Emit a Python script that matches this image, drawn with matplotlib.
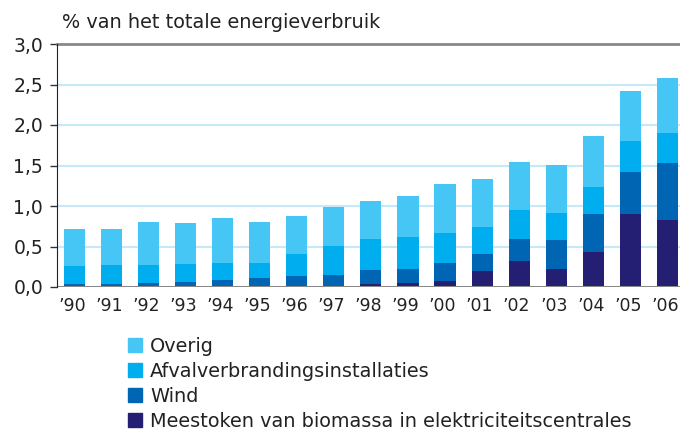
import numpy as np
import matplotlib
matplotlib.use("Agg")
import matplotlib.pyplot as plt
import matplotlib.transforms as mtransforms
from matplotlib.patches import Patch

years = ["\u201990", "\u201991", "\u201992", "\u201993", "\u201994", "\u201995", "\u201996", "\u201997",
         "\u201998", "\u201999", "\u201900", "\u201901", "\u201902", "\u201903", "\u201904", "\u201905", "\u201906"]

# layer values
biomassa = [0.0, 0.0, 0.0, 0.0, 0.0, 0.0, 0.0, 0.01, 0.04, 0.05, 0.08, 0.20, 0.32, 0.22, 0.43, 0.90, 0.83]
wind = [0.037, 0.037, 0.05, 0.06, 0.09, 0.11, 0.135, 0.14, 0.17, 0.17, 0.22, 0.21, 0.27, 0.36, 0.47, 0.52, 0.70]
afval = [0.223, 0.233, 0.22, 0.22, 0.21, 0.19, 0.275, 0.36, 0.38, 0.40, 0.37, 0.33, 0.36, 0.33, 0.33, 0.38, 0.37]
overig = [0.456, 0.446, 0.53, 0.51, 0.55, 0.50, 0.466, 0.48, 0.47, 0.50, 0.60, 0.59, 0.59, 0.60, 0.64, 0.62, 0.68]

labels = ["Meestoken van biomassa in elektriciteitscentrales", "Wind",
          "Afvalverbrandingsinstallaties", "Overig"]
colors = ["#241f73", "#0066b3", "#00aeef", "#45c6f5"]
yticks = [0.0, 0.5, 1.0, 1.5, 2.0, 2.5, 3.0]

plt.rcParams['font.family'] = ['DejaVu Sans']
fig = plt.figure(figsize=(6.8, 4.32), dpi=100)
ax = fig.add_axes([57 / 680, 1 - 287 / 432, 623 / 680, 243 / 432])

x = np.arange(len(years))
bottom = np.zeros(len(years))
for vals, lab, col in zip([biomassa, wind, afval, overig], labels, colors):
    ax.bar(x, vals, 0.57, bottom=bottom, color=col, label=lab, zorder=3)
    bottom += np.array(vals)

for t in yticks[1:-1]:
    ax.axhline(t, color="#c5e9f8", lw=1.5, zorder=1)
ax.axhline(0, color="#888888", lw=2.2, zorder=4)
ax.axhline(3.0, color="#888888", lw=2, zorder=4, clip_on=False)

ax.set_xlim(-0.47, 16.34)
ax.set_ylim(0, 3.0)
ax.set_xticks(x)
ax.set_xticklabels(years, fontsize=12.5, color="#222222")
ax.tick_params(axis="x", length=0, pad=7)
# labels sit a touch left of the bar centres
shift = mtransforms.ScaledTranslation(-2.5 / 100, 0, fig.dpi_scale_trans)
for lbl in ax.get_xticklabels():
    lbl.set_transform(lbl.get_transform() + shift)
ax.set_yticks(yticks)
ax.set_yticklabels([f"{t:.1f}".replace(".", ",") for t in yticks], fontsize=13.5, color="#222222")
ax.tick_params(axis="y", length=5, width=1, color="#333333", pad=5)
for s in ["top", "right", "bottom"]:
    ax.spines[s].set_visible(False)
ax.spines["left"].set_color("#222222")
ax.spines["left"].set_zorder(5)

fig.text(62 / 680, 1 - 22 / 432, "% van het totale energieverbruik", fontsize=13.9,
         color="#222222", va="center", ha="left")

handles = [Patch(color=c) for c in colors][::-1]
fig.legend(handles, labels[::-1], loc="upper left", bbox_to_anchor=(128 / 680, 1 - 337 / 432),
           frameon=False, fontsize=13.9, handlelength=0.72, handleheight=0.72, handletextpad=0.42,
           labelspacing=0.31, borderpad=0, borderaxespad=0, labelcolor="#222222")

fig.savefig("out.png", dpi=100)
